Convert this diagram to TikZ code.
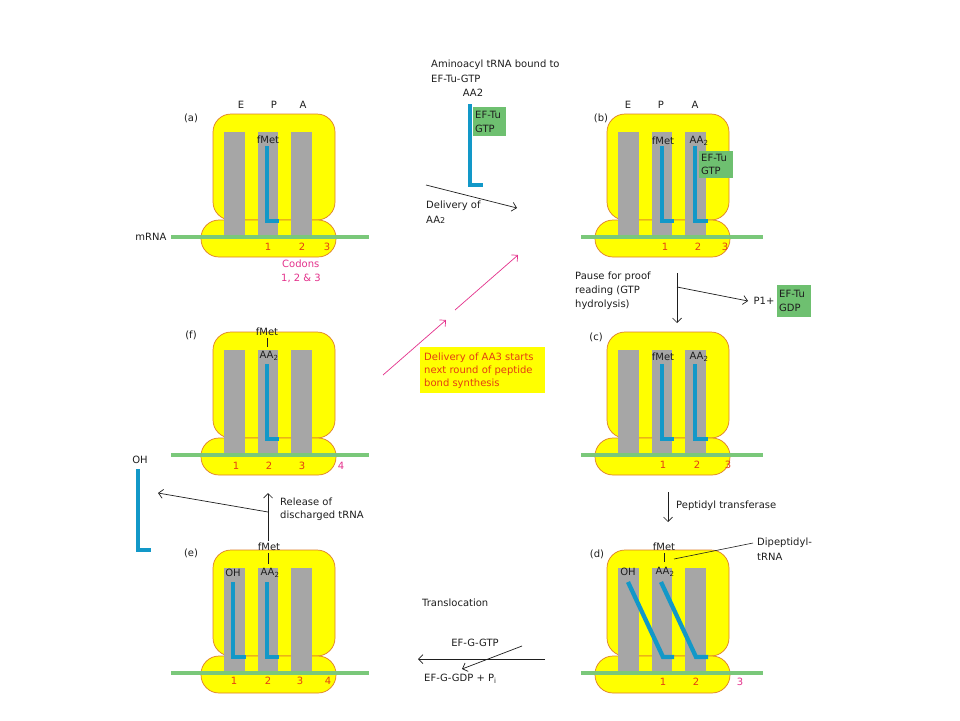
\documentclass[tikz,border=0pt]{standalone}
\usepackage{fontspec}
\setmainfont{DejaVu Sans}
\usetikzlibrary{arrows.meta}
\definecolor{ribY}{RGB}{255,255,0}
\definecolor{ribO}{RGB}{222,125,40}
\definecolor{barG}{RGB}{166,166,166}
\definecolor{trnaB}{RGB}{18,152,200}
\definecolor{mrnaG}{RGB}{122,200,122}
\definecolor{boxG}{RGB}{110,192,112}
\definecolor{numR}{RGB}{228,62,18}
\definecolor{magP}{RGB}{228,50,140}
\definecolor{txtK}{RGB}{30,30,30}
\tikzset{
  lbl/.style={font=\fontsize{10}{12}\selectfont, inner sep=0pt, text=txtK},
  lbll/.style={lbl, anchor=west},
  num/.style={font=\fontsize{10}{12}\selectfont, inner sep=0pt, text=numR},
  mnum/.style={font=\fontsize{10}{12}\selectfont, inner sep=0pt, text=magP},
  trna/.style={draw=trnaB, line width=4.3pt, line join=miter},
  mrna/.style={draw=mrnaG, line width=3.6pt},
  arr/.style={draw=txtK, line width=0.7pt, -{Straight Barb[length=4.5pt,width=9pt]}},
  marr/.style={draw=magP, line width=0.7pt, -{Straight Barb[length=4.5pt,width=9pt]}},
  thin/.style={draw=txtK, line width=0.6pt},
  efbox/.style={fill=boxG, draw=none},
  subunit/.style={draw=ribO, fill=ribY, line width=0.7pt, rounded corners=18pt},
  sitebar/.style={fill=barG, draw=none}
}
\newcommand\ribobody[2]{%
  \begin{scope}[shift={(#1,#2)}]
    \path[subunit] (213,114) rectangle (335,220);
    \path[subunit] (201,220) rectangle (336,257);
    \path[sitebar] (224,132) rectangle (245,237);
    \path[sitebar] (258,132) rectangle (278,237);
    \path[sitebar] (291,132) rectangle (312,237);
  \end{scope}}
\begin{document}
\begin{tikzpicture}[x=1pt,y=-1pt]
\useasboundingbox (0,0) rectangle (960,720);
\fill[white] (0,0) rectangle (960,720);

% ---------------- panel (a)
\ribobody{0}{0}
\draw[mrna] (171,237) -- (369,237);
\draw[trna] (267,146) -- (267,221) -- (279,221);
\node[lbl] (aE) at (241,105) {E};
\node[lbl] (aP) at (274,105) {P};
\node[lbl] (aA) at (303,105) {A};
\node[lbl] (alab) at (191,118) {(a)};
\node[lbl] (afm) at (268,140) {fMet};
\node[lbl] (mrnalab) at (151,237) {mRNA};
\node[num] (a1) at (268,247) {1};
\node[num] (a2) at (302,247) {2};
\node[num] (a3) at (327,247) {3};
\node[lbll, text=magP] (cod1) at (282,264) {Codons};
\node[lbll, text=magP] (cod2) at (281,278) {1, 2 \& 3};

% ---------------- incoming aminoacyl tRNA
\node[lbll] (amino1) at (431,65) {Aminoacyl tRNA bound to};
\node[lbll] (amino2) at (431,79) {EF-Tu-GTP};
\node[lbl] (aa2top) at (473,93) {AA2};
\draw[trna] (470,104) -- (470,185) -- (483,185);
\path[efbox] (473,107) rectangle (506,136);
\node[lbll] (eftu1) at (475,115) {EF-Tu};
\node[lbll] (eftu1b) at (475,129) {GTP};
\coordinate (d1s) at (426,185);
\coordinate (d1e) at (517,208);
\draw[arr] (d1s) -- (d1e);
\node[lbll] (deliv1) at (426,206) {Delivery of};
\node[lbll] (deliv2) at (426,220) {AA{\fontsize{8}{8}\selectfont 2}};

% ---------------- panel (b)
\ribobody{394}{0}
\draw[mrna] (581,237) -- (763,237);
\draw[trna] (662,146) -- (662,221) -- (674,221);
\draw[trna] (695,146) -- (695,221) -- (708,221);
\path[efbox] (699,151) rectangle (733,178);
\node[lbll] (beftu1) at (701,158) {EF-Tu};
\node[lbll] (beftu2) at (701,171) {GTP};
\node[lbl] (bE) at (628,105) {E};
\node[lbl] (bP) at (661,105) {P};
\node[lbl] (bA) at (695,105) {A};
\node[lbl] (blab) at (601,118) {(b)};
\node[lbl] (bfm) at (663,141) {fMet};
\node[lbl] (baa) at (699,141) {AA\textsubscript{2}};
\node[num] (b1) at (665,247) {1};
\node[num] (b2) at (698,247) {2};
\node[num] (b3) at (725,247) {3};

% ---------------- pause for proof reading
\node[lbll] (pause1) at (575,277) {Pause for proof};
\node[lbll] (pause2) at (575,291) {reading (GTP};
\node[lbll] (pause3) at (575,305) {hydrolysis)};
\coordinate (ps) at (677,273);
\coordinate (pe) at (677,323);
\coordinate (pm) at (677,287);
\coordinate (pside) at (748,301);
\draw[arr] (ps) -- (pe);
\draw[arr] (pm) -- (pside);
\node[lbl] (p1) at (764,301) {P1+};
\path[efbox] (777,285) rectangle (811,317);
\node[lbll] (gdp1) at (779,294) {EF-Tu};
\node[lbll] (gdp2) at (779,308) {GDP};

% ---------------- panel (c)
\ribobody{394}{218}
\draw[mrna] (581,455) -- (763,455);
\draw[trna] (662,364) -- (662,439) -- (674,439);
\draw[trna] (695,364) -- (695,439) -- (708,439);
\node[lbl] (clab) at (596,337) {(c)};
\node[lbl] (cfm) at (663,357) {fMet};
\node[lbl] (caa) at (699,357) {AA\textsubscript{2}};
\node[num] (c1) at (663,465) {1};
\node[num] (c2) at (697,465) {2};
\node[num] (c3) at (728,465) {3};

% ---------------- peptidyl transferase
\coordinate (pts) at (668,492);
\coordinate (pte) at (668,522);
\draw[arr] (pts) -- (pte);
\node[lbll] (ptlab) at (676,506) {Peptidyl transferase};

% ---------------- panel (d)
\ribobody{394}{436}
\draw[mrna] (581,673) -- (763,673);
\draw[trna] (628,582) -- (663,657) -- (674,657);
\draw[trna] (661,582) -- (696,657) -- (708,657);
\node[lbl] (dlab) at (597,554) {(d)};
\node[lbl] (doh) at (628,572) {OH};
\node[lbl] (daa) at (665,572) {AA\textsubscript{2}};
\node[lbl] (dfm) at (664,547) {fMet};
\draw[thin] (664,553) -- (664,562);
\coordinate (dpa) at (674,559);
\coordinate (dpb) at (753,543);
\draw[thin] (dpa) -- (dpb);
\node[lbll] (dip1) at (757,543) {Dipeptidyl-};
\node[lbll] (dip2) at (757,557) {tRNA};
\node[num] (d1) at (663,682) {1};
\node[num] (d2) at (696,682) {2};
\node[mnum] (d3) at (740,682) {3};

% ---------------- translocation
\node[lbll] (transl) at (422,603) {Translocation};
\coordinate (trs) at (545,659);
\coordinate (tre) at (418,659);
\draw[arr] (trs) -- (tre);
\node[lbl] (efggtp) at (475,643) {EF-G-GTP};
\coordinate (gs) at (522,646);
\coordinate (ge) at (462,669);
\draw[arr] (gs) -- (ge);
\node[lbll] (efggdp) at (424,679) {EF-G-GDP + P\textsubscript{i}};

% ---------------- panel (e)
\ribobody{0}{436}
\draw[mrna] (171,673) -- (369,673);
\draw[trna] (233,582) -- (233,657) -- (246,657);
\draw[trna] (267,582) -- (267,657) -- (279,657);
\node[lbl] (elab) at (191,553) {(e)};
\node[lbl] (eoh) at (233,573) {OH};
\node[lbl] (eaa) at (270,573) {AA\textsubscript{2}};
\node[lbl] (efm) at (269,547) {fMet};
\draw[thin] (268,553) -- (268,564);
\node[num] (e1) at (234,681) {1};
\node[num] (e2) at (268,681) {2};
\node[num] (e3) at (300,681) {3};
\node[num] (e4) at (328,681) {4};

% ---------------- release of discharged tRNA
\coordinate (rs) at (268,541);
\coordinate (re) at (268,493);
\coordinate (rm) at (268,512);
\coordinate (rl) at (158,493);
\draw[arr] (rs) -- (re);
\draw[arr] (rm) -- (rl);
\node[lbll] (rel1) at (280,502) {Release of};
\node[lbll] (rel2) at (280,516) {discharged tRNA};
\node[lbl] (freeoh) at (140,460) {OH};
\draw[trna] (138,469) -- (138,550) -- (151,550);

% ---------------- panel (f)
\ribobody{0}{218}
\draw[mrna] (171,455) -- (369,455);
\draw[trna] (267,364) -- (267,439) -- (279,439);
\node[lbl] (flab) at (191,335) {(f)};
\node[lbl] (ffm) at (267,332) {fMet};
\draw[thin] (267,338) -- (267,347);
\node[lbl] (faa) at (269,356) {AA\textsubscript{2}};
\node[num] (f1) at (236,466) {1};
\node[num] (f2) at (269,466) {2};
\node[num] (f3) at (302,466) {3};
\node[mnum] (f4) at (341,466) {4};

% ---------------- delivery of AA3
\coordinate (m1s) at (383,375);
\coordinate (m1e) at (446,320);
\coordinate (m2s) at (455,310);
\coordinate (m2e) at (518,255);
\draw[marr] (m1s) -- (m1e);
\draw[marr] (m2s) -- (m2e);
\path[fill=ribY] (420,347) rectangle (545,393);
\node[lbll, text=numR] (aa3a) at (424,358) {Delivery of AA3 starts};
\node[lbll, text=numR] (aa3b) at (424,371) {next round of peptide};
\node[lbll, text=numR] (aa3c) at (424,384) {bond synthesis};
\end{tikzpicture}
\end{document}
